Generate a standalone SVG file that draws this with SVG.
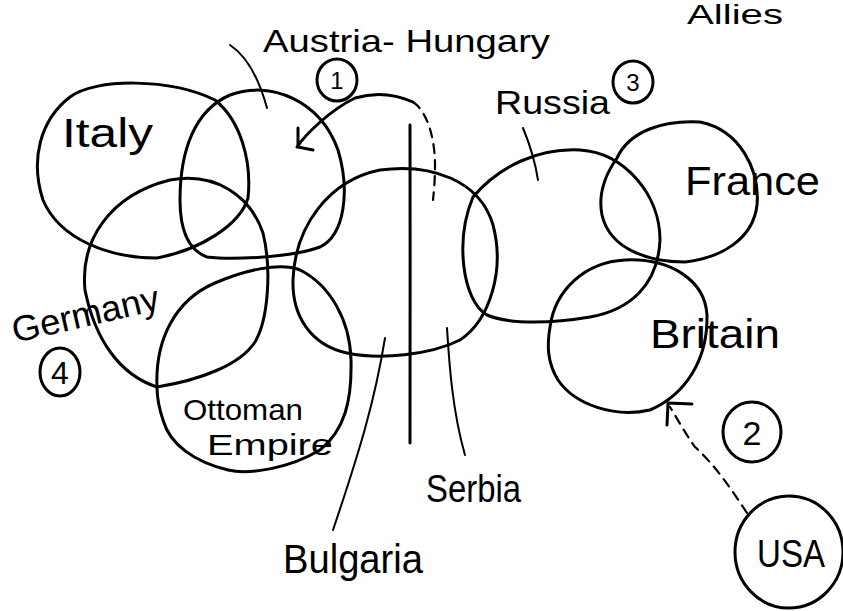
<svg xmlns="http://www.w3.org/2000/svg" width="843" height="611" viewBox="0 0 843 611">
<style>
.c{fill:none;stroke:#000;stroke-width:3;stroke-linejoin:round;stroke-linecap:round}
.l{fill:none;stroke:#000;stroke-width:2;stroke-linecap:round}
.d{fill:none;stroke:#000;stroke-width:2.2;stroke-linecap:round;stroke-dasharray:9 7}
.t{font-family:"Liberation Sans",Arial,sans-serif;fill:#000}
</style>
<rect width="843" height="611" fill="#fff"/>
<g id="italy"><path class="c" d="M43,200 C30,160 40,120 70,97 C95,78 170,78 215,100 C240,120 252,160 248,198 C240,225 200,250 157,258 C110,258 60,240 43,200 Z"/><text class="t" x="62" y="147" font-size="40" textLength="91" lengthAdjust="spacingAndGlyphs">Italy</text></g>
<g id="austria-hungary"><path class="c" d="M180,200 C180,150 195,110 230,95 C270,80 320,100 338,150 C350,190 345,235 320,247 C290,258 230,260 207,257 C188,250 180,230 180,200 Z"/><text class="t" x="263" y="52" font-size="32" textLength="287" lengthAdjust="spacingAndGlyphs">Austria- Hungary</text><ellipse class="c" cx="337" cy="80" rx="20" ry="21"/><text class="t" x="337" y="89" font-size="24" text-anchor="middle">1</text></g>
<g id="germany"><path class="c" d="M157,387 C120,375 95,340 85,290 C80,240 110,195 170,180 C215,172 250,195 263,233 C272,270 268,320 255,342 C240,365 200,380 157,387 Z"/><text class="t" x="15" y="343" font-size="36" textLength="150" lengthAdjust="spacingAndGlyphs" transform="rotate(-13 15 343)">Germany</text><ellipse class="c" cx="60" cy="372" rx="20" ry="24"/><text class="t" x="60" y="384" font-size="32" text-anchor="middle">4</text></g>
<g id="ottoman-empire"><path class="c" d="M157,387 C155,340 175,300 215,283 C245,270 280,262 300,270 C330,285 350,320 351,360 C352,400 345,430 320,450 C290,468 250,475 228,470 C195,462 170,445 163,420 C158,405 157,395 157,387 Z"/><text class="t" x="183" y="420" font-size="30" textLength="120" lengthAdjust="spacingAndGlyphs">Ottoman</text><text class="t" x="207" y="455" font-size="30" textLength="126" lengthAdjust="spacingAndGlyphs">Empire</text></g>
<g id="serbia"><path class="c" d="M293,280 C295,225 330,180 380,170 C430,163 480,180 493,225 C505,270 490,320 460,340 C430,355 380,360 347,353 C310,345 292,315 293,280 Z"/><text class="t" x="426" y="502" font-size="38" textLength="95" lengthAdjust="spacingAndGlyphs">Serbia</text></g>
<g id="bulgaria"><text class="t" x="283" y="573" font-size="40" textLength="140" lengthAdjust="spacingAndGlyphs">Bulgaria</text></g>
<g id="russia"><path class="c" d="M473,197 C500,165 540,148 580,150 C625,153 660,195 660,240 C658,285 630,310 590,317 C555,323 510,325 487,315 C462,300 455,240 473,197 Z"/><text class="t" x="495" y="114" font-size="34" textLength="115" lengthAdjust="spacingAndGlyphs">Russia</text><ellipse class="c" cx="633" cy="82" rx="20" ry="21"/><text class="t" x="633" y="91" font-size="24" text-anchor="middle">3</text></g>
<g id="france"><path class="c" d="M617,158 C630,130 665,120 700,122 C740,130 760,170 757,205 C753,240 720,258 685,262 C650,262 610,250 602,215 C598,195 605,175 617,158 Z"/><text class="t" x="685" y="195" font-size="40" textLength="135" lengthAdjust="spacingAndGlyphs">France</text></g>
<g id="britain"><path class="c" d="M550,327 C555,290 585,262 625,260 C670,258 705,280 707,315 C708,360 685,395 650,410 C615,418 575,405 558,380 C547,362 547,345 550,327 Z"/><text class="t" x="650" y="348" font-size="40" textLength="130" lengthAdjust="spacingAndGlyphs">Britain</text><ellipse class="c" cx="752" cy="432" rx="29" ry="30"/><text class="t" x="752" y="445" font-size="34" text-anchor="middle">2</text></g>
<g id="usa"><ellipse class="c" cx="789" cy="552" rx="54" ry="56"/><text class="t" x="757" y="567" font-size="38" textLength="68" lengthAdjust="spacingAndGlyphs">USA</text></g>
<g id="allies"><text class="t" x="687" y="24" font-size="28" textLength="96" lengthAdjust="spacingAndGlyphs">Allies</text></g>
<g id="connectors">
<path class="l" d="M230,45 C245,55 258,75 267,108"/>
<path class="l" d="M523,128 C530,145 535,160 538,180"/>
<path class="c" d="M410,125 C411,230 409,340 410,443" stroke-width="3.5"/>
<path class="l" d="M385,338 C375,400 360,450 333,530"/>
<path class="l" d="M447,328 C449,360 452,410 465,455"/>
<path class="c" d="M297,147 C305,135 330,110 355,98 C375,92 395,94 413,102"/>
<path class="d" d="M413,102 C428,112 435,140 435,165 C435,180 434,190 433,200"/>
<path class="c" d="M298,128 L298,147 L313,150"/>
<path class="d" d="M747,513 C730,487 713,463 695,447 C685,433 678,420 670,407" stroke-dasharray="10 5 3 5"/>
<path class="c" d="M692,404 L668,403 L667,425"/>
</g>
</svg>
